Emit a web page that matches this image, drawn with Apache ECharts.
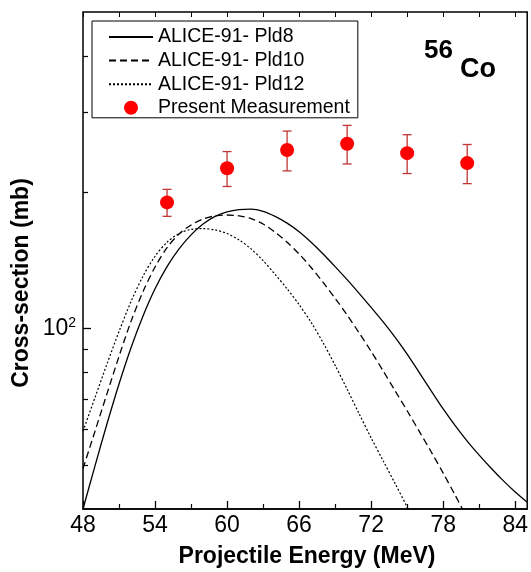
<!DOCTYPE html>
<html>
<head>
<meta charset="utf-8">
<script src="https://cdn.jsdelivr.net/npm/echarts@6/dist/echarts.min.js"></script>
<style>
  html, body { margin: 0; padding: 0; background: #fff; }
  #main { width: 531px; height: 572px; }
</style>
</head>
<body>
<div id="main"></div>
<script>
// 数据
var energies = [48, 49, 50, 51, 52, 53, 54, 55, 56, 57, 58, 59, 60, 61, 62, 63, 64, 65, 66,
  67, 68, 69, 70, 71, 72, 73, 74, 75, 76, 77, 78, 79, 80, 81, 82, 83, 84, 85];
var pld8 = [40, 49.8, 61.7, 75.5, 90.8, 106.7, 122.5, 137.1, 150, 161.1, 170.2, 177, 181.1, 183.2, 183.7, 181.6, 177, 171, 163.7,
  155.2, 146.2, 137.1, 128.3, 119.7, 111.4, 103.5, 95.7, 87.9, 80.1, 72.9, 66.5, 61.1, 56.5, 52.6, 49.2, 46.2, 43.6, 41.4];
var pld10 = [49.1, 59.4, 71.9, 86.9, 103.8, 120.8, 136.8, 151, 161.8, 169.4, 174.6, 177.4, 178.2, 177.4, 175, 170.2, 163.3, 155.2, 146.2,
  136.5, 126.5, 116.7, 107.2, 97.9, 89.1, 80.7, 72.9, 65.9, 59.4, 53.5, 48, 42.9, 38.2, null, null, null, null, null];
var pld12 = [59.4, 70.5, 83.6, 98.6, 114.8, 130.6, 144.5, 155.2, 162.2, 165.6, 166.3, 165.2, 162.2, 157, 150, 141.3, 131.8, 122.5, 113,
  103.3, 93.1, 83, 73.5, 64.9, 57.4, 51.1, 45.5, 40.4, 35.6, null, null, null, null, null, null, null, null, null];

var measEnergy = [55, 60, 65, 70, 75, 80];
var measValue = [190, 226, 248, 256, 244, 232];
var measErr = [13, 20, 25, 25, 24, 23];

var xMajorTicks = [48, 54, 60, 66, 72, 78, 84];
var xMinorTicks = [51, 57, 63, 69, 75, 81];
var yMajorTicks = [100];
var yMinorTicks = [50, 60, 70, 80, 90, 200, 300, 400];

var names = ['ALICE-91- Pld8', 'ALICE-91- Pld10', 'ALICE-91- Pld12', 'Present Measurement'];

var FONT = 'Liberation Sans';
var lg = function (v) { return v == null ? null : Math.log10(v); };
var pairs = function (vals) {
  return energies.map(function (e, i) { return [e, lg(vals[i])]; }).filter(function (p) { return p[1] != null; });
};

var chart = echarts.init(document.getElementById('main'), null, { renderer: 'canvas' });

var yBase = {
  type: 'value', min: lg(40), max: lg(500),
  splitLine: { show: false }, axisLine: { show: false }
};
var xBase = {
  type: 'value', min: 48, max: 85,
  splitLine: { show: false }
};

var option = {
  animation: false,
  backgroundColor: '#fff',
  grid: { left: 83, top: 12, right: 3, bottom: 63, show: true, borderColor: '#000', borderWidth: 1.5 },
  legend: {
    orient: 'vertical', left: 92, top: 21,
    padding: [6, 8, 0, 16], itemGap: 3.6, itemWidth: 44, itemHeight: 14,
    borderColor: '#000', borderWidth: 1, backgroundColor: '#fff',
    textStyle: { fontSize: 19.5, fontFamily: FONT, color: '#000', lineHeight: 19 },
    data: [
      { name: names[0], itemStyle: { opacity: 0 } },
      { name: names[1], itemStyle: { opacity: 0 } },
      { name: names[2], itemStyle: { opacity: 0 } },
      { name: names[3] }
    ]
  },
  xAxis: [
    Object.assign({}, xBase, {
      position: 'bottom',
      axisLine: { show: true, lineStyle: { color: '#000', width: 1.5 } },
      axisTick: { inside: true, length: 8, customValues: xMajorTicks, lineStyle: { color: '#000', width: 1.3 } },
      axisLabel: { customValues: xMajorTicks, margin: 5, fontSize: 23, fontFamily: FONT, color: '#000' }
    }),
    Object.assign({}, xBase, {
      position: 'bottom',
      axisLine: { show: false },
      axisTick: { inside: true, length: 5, customValues: xMinorTicks, lineStyle: { color: '#000', width: 1.2 } },
      axisLabel: { show: false }
    }),
    Object.assign({}, xBase, {
      position: 'top',
      axisLine: { show: false },
      axisTick: { inside: true, length: 5, customValues: xMajorTicks.concat(xMinorTicks), lineStyle: { color: '#000', width: 1 } },
      axisLabel: { show: false }
    })
  ],
  yAxis: [
    Object.assign({}, yBase, {
      position: 'left',
      axisTick: { inside: true, length: 8, customValues: yMajorTicks.map(lg), lineStyle: { color: '#000', width: 1.3 } },
      axisLabel: {
        customValues: yMajorTicks.map(lg), margin: 7,
        formatter: function (v) { return '{b|10}{s|' + Math.round(v) + '}'; },
        rich: {
          b: { fontSize: 23, fontFamily: FONT, color: '#000' },
          s: { fontSize: 14, fontFamily: FONT, color: '#000', padding: [0, 0, 12, 0] }
        }
      }
    }),
    Object.assign({}, yBase, {
      position: 'left',
      axisTick: { inside: true, length: 5, customValues: yMinorTicks.map(lg), lineStyle: { color: '#000', width: 1.2 } },
      axisLabel: { show: false }
    })
  ],
  series: [
    {
      name: names[0], type: 'line', data: pairs(pld8), smooth: 0.3, symbol: 'none',
      lineStyle: { color: '#000', width: 1.3, type: 'solid' }, itemStyle: { color: '#000', opacity: 0 }
    },
    {
      name: names[1], type: 'line', data: pairs(pld10), smooth: 0.3, symbol: 'none',
      lineStyle: { color: '#000', width: 1.3, type: [7, 4] }, itemStyle: { color: '#000', opacity: 0 }
    },
    {
      name: names[2], type: 'line', data: pairs(pld12), smooth: 0.3, symbol: 'none',
      lineStyle: { color: '#000', width: 1.2, type: [2, 2] }, itemStyle: { color: '#000', opacity: 0 }
    },
    {
      // 误差棒
      type: 'custom', name: 'err',
      data: measEnergy.map(function (e, i) {
        return [e, lg(measValue[i] - measErr[i]), lg(measValue[i] + measErr[i])];
      }),
      renderItem: function (params, api) {
        var lo = api.coord([api.value(0), api.value(1)]);
        var hi = api.coord([api.value(0), api.value(2)]);
        var w = 4.5;
        var st = { stroke: '#c03535', lineWidth: 1.3 };
        return {
          type: 'group',
          children: [
            { type: 'line', shape: { x1: lo[0], y1: lo[1], x2: hi[0], y2: hi[1] }, style: st },
            { type: 'line', shape: { x1: lo[0] - w, y1: lo[1], x2: lo[0] + w, y2: lo[1] }, style: st },
            { type: 'line', shape: { x1: hi[0] - w, y1: hi[1], x2: hi[0] + w, y2: hi[1] }, style: st }
          ]
        };
      },
      z: 3
    },
    {
      name: names[3], type: 'scatter', symbol: 'circle', symbolSize: 14,
      data: measEnergy.map(function (e, i) { return [e, lg(measValue[i])]; }),
      itemStyle: { color: '#ff0000', opacity: 1 }, z: 4
    }
  ],
  graphic: [
    { type: 'text', left: 424, top: 38, style: { text: '56', font: 'bold 26px "Liberation Sans"', fill: '#000' } },
    { type: 'text', left: 460, top: 56, style: { text: 'Co', font: 'bold 27px "Liberation Sans"', fill: '#000' } },
    {
      type: 'text', x: 22, y: 283, rotation: Math.PI / 2,
      style: { text: 'Cross-section (mb)', font: 'bold 23px "Liberation Sans"', fill: '#000', align: 'center', verticalAlign: 'middle' }
    },
    {
      type: 'text', x: 307, y: 557,
      style: { text: 'Projectile Energy (MeV)', font: 'bold 23px "Liberation Sans"', fill: '#000', align: 'center', verticalAlign: 'middle' }
    }
  ]
};

chart.setOption(option);
</script>
</body>
</html>
